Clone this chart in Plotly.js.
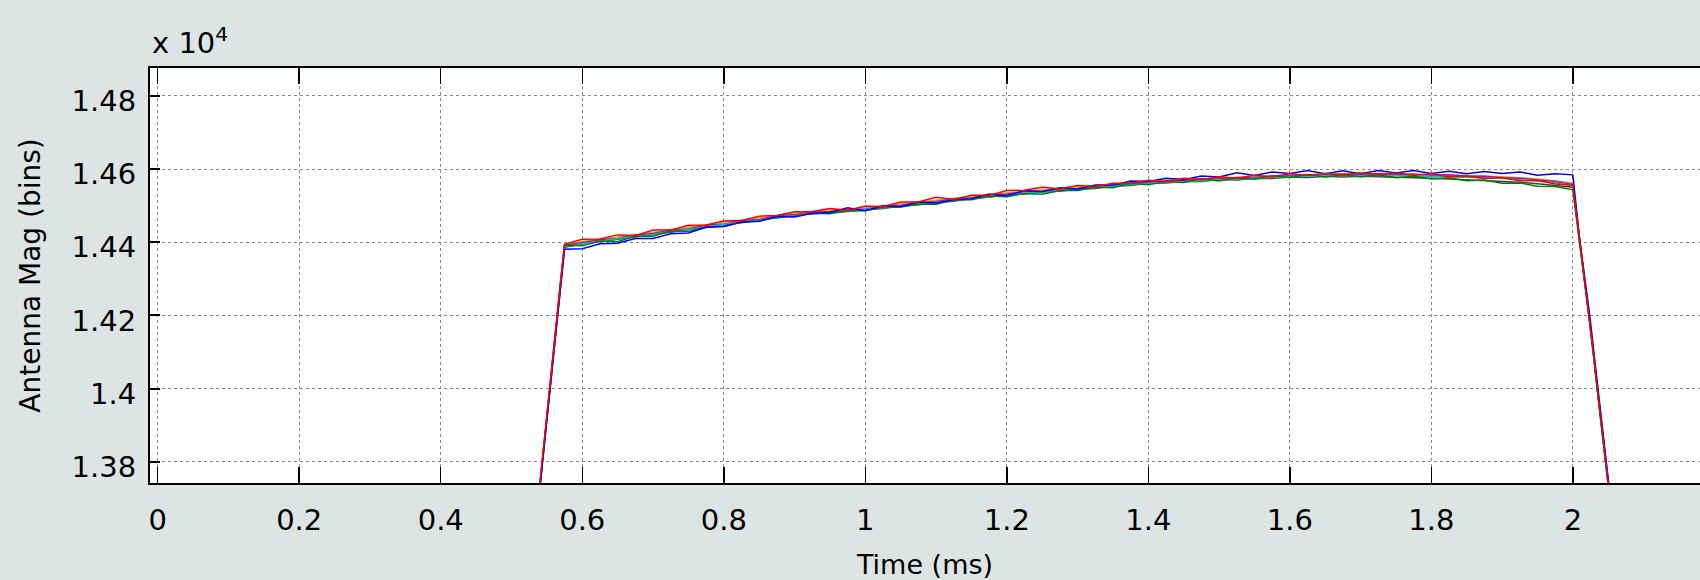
<!DOCTYPE html>
<html>
<head>
<meta charset="utf-8">
<script src="https://cdn.plot.ly/plotly-3.0.1.min.js"></script>
<style>
  html, body { margin: 0; padding: 0; background: #dde4e4; }
  #chart { width: 1700px; height: 580px; }
</style>
</head>
<body>
<div id="chart"></div>
<script>
// Time axis (ms): rising edge, plateau, falling edge
const timeMs = [
  0.540,0.545,0.550,0.555,0.560,0.565,0.570,
  0.575,0.600,0.625,0.650,0.675,0.700,0.725,0.750,0.775,
  0.800,0.825,0.850,0.875,0.900,0.925,0.950,0.975,
  1.000,1.025,1.050,1.075,1.100,1.125,1.150,1.175,1.200,1.225,1.250,1.275,1.300,1.325,1.350,1.375,
  1.400,1.425,1.450,1.475,1.500,1.525,1.550,1.575,1.600,1.625,1.650,1.675,1.700,1.725,1.750,1.775,
  1.800,1.825,1.850,1.875,1.900,1.925,1.950,1.975,2.000,
  2.005,2.010,2.015,2.020,2.025,2.030,2.035,2.040,2.045,2.050,2.055
];

// Antenna magnitude (bins) for each captured pulse
const magBlack = [
  13731,13827,13922,14018,14114,14209,14305,
  14386,14395,14401,14409,14414,14421,14427,14435,14440,14448,14453,14461,14466,14474,14477,14482,14484,14489,14492,14499,14502,14509,14512,14520,14523,14530,14532,14538,14539,14545,14547,14553,14555,14561,14562,14566,14566,14571,14570,14575,14574,14578,14577,14580,14578,14580,14578,14578,14576,14575,14573,14571,14569,14567,14564,14560,14555,14550,
  14474,14388,14318,14243,14168,14078,13988,13903,13823,13738,13652
];
const magYellow = [
  13736,13833,13927,14024,14119,14215,14311,
  14394,14402,14409,14414,14420,14428,14434,14442,14447,14455,14460,14467,14473,14480,14483,14488,14490,14495,14499,14505,14509,14515,14519,14526,14530,14536,14540,14543,14547,14550,14554,14558,14562,14566,14569,14571,14574,14576,14578,14580,14582,14584,14585,14586,14587,14588,14587,14587,14586,14586,14584,14583,14581,14579,14577,14573,14568,14561,
  14480,14396,14326,14251,14176,14086,13996,13911,13831,13746,13661
];
const magMagenta = [
  13734,13831,13926,14022,14118,14213,14309,
  14391,14399,14407,14410,14420,14424,14433,14437,14446,14450,14459,14462,14472,14476,14482,14484,14489,14491,14498,14501,14508,14511,14518,14521,14529,14532,14538,14540,14545,14547,14553,14555,14561,14563,14568,14568,14573,14573,14577,14577,14581,14581,14584,14583,14586,14585,14587,14584,14586,14583,14584,14580,14580,14576,14575,14570,14566,14558,
  14482,14397,14327,14252,14177,14087,13997,13912,13832,13747,13662
];
const magCyan = [
  13732,13828,13923,14019,14115,14210,14306,
  14388,14396,14403,14408,14416,14421,14430,14435,14442,14448,14456,14460,14468,14473,14479,14481,14486,14489,14494,14498,14505,14509,14514,14519,14525,14530,14533,14538,14541,14545,14550,14552,14557,14561,14563,14566,14568,14572,14573,14575,14577,14579,14580,14582,14582,14583,14583,14582,14581,14581,14579,14578,14576,14574,14571,14567,14562,14554,
  14476,14390,14320,14245,14170,14080,13990,13905,13825,13740,13655
];
const magGreen = [
  13730,13826,13921,14016,14112,14208,14304,
  14392,14390,14403,14401,14417,14416,14431,14429,14442,14443,14455,14457,14470,14471,14479,14478,14486,14486,14496,14496,14504,14504,14515,14516,14526,14524,14533,14531,14541,14541,14551,14549,14561,14557,14566,14563,14573,14567,14576,14572,14581,14577,14585,14578,14584,14579,14584,14576,14580,14573,14576,14568,14570,14561,14562,14553,14552,14543,
  14470,14385,14315,14240,14163,14075,13985,13900,13820,13736,13650
];
const magBlue = [
  13725,13818,13915,14010,14106,14200,14296,
  14381,14382,14396,14397,14410,14410,14423,14425,14441,14443,14455,14457,14470,14469,14479,14481,14494,14486,14499,14497,14510,14507,14516,14519,14532,14527,14541,14538,14549,14545,14556,14556,14567,14566,14575,14571,14581,14578,14590,14582,14592,14588,14596,14587,14595,14587,14596,14589,14596,14588,14594,14587,14593,14588,14592,14583,14587,14584,
  14486,14402,14330,14258,14182,14094,14004,13918,13838,13752,13668
];
const magRed = [
  13740,13836,13930,14028,14122,14218,14314,
  14394,14408,14409,14420,14418,14433,14433,14446,14447,14458,14459,14471,14473,14483,14484,14492,14487,14499,14497,14510,14510,14523,14517,14528,14528,14541,14542,14550,14546,14555,14552,14561,14561,14569,14566,14575,14571,14579,14575,14583,14579,14587,14583,14588,14584,14589,14585,14589,14583,14587,14579,14581,14574,14577,14568,14569,14559,14556,
  14478,14393,14322,14248,14172,14082,13992,13907,13827,13742,13656
];

const yTickVals = [13800, 14000, 14200, 14400, 14600, 14800];
const yTickText = ['1.38', '1.4', '1.42', '1.44', '1.46', '1.48'];

const series = [
  {y: magBlack,   color: '#404040'},
  {y: magYellow,  color: '#bfbf00'},
  {y: magMagenta, color: '#bf00bf'},
  {y: magCyan,    color: '#00bfbf'},
  {y: magGreen,   color: '#008000'},
  {y: magBlue,    color: '#0000ff'},
  {y: magRed,     color: '#ff0000'}
];

const traces = series.map(s => ({
  type: 'scatter', mode: 'lines', x: timeMs, y: s.y,
  line: {color: s.color, width: 1.5, shape: 'linear'},
  showlegend: false, hoverinfo: 'skip'
}));

const FONT = 'DejaVu Sans, Arial, sans-serif';

const layout = {
  width: 1700, height: 580,
  margin: {l: 150, r: 0, t: 68, b: 97, pad: 0},
  paper_bgcolor: '#dde4e4',
  plot_bgcolor: '#ffffff',
  showlegend: false,
  font: {family: FONT, size: 27, color: '#000'},
  xaxis: {
    range: [-0.0109, 2.1797],
    dtick: 0.2, tick0: 0,
    ticks: 'inside', ticklen: 16, tickwidth: 1.5, tickcolor: '#000',
    showline: true, linecolor: '#000', linewidth: 2, mirror: 'ticks',
    showgrid: true, gridcolor: '#8a8a8a', griddash: 'dot', gridwidth: 1,
    zeroline: false,
    tickfont: {family: FONT, size: 29, color: '#000'},
    ticklabelstandoff: 10,
    title: {text: 'Time (ms)', font: {family: FONT, size: 27, color: '#000'}, standoff: 26},
    automargin: false
  },
  yaxis: {
    range: [13742, 14876],
    tickvals: yTickVals, ticktext: yTickText,
    ticks: 'inside', ticklen: 10, tickwidth: 2, tickcolor: '#000',
    showline: true, linecolor: '#000', linewidth: 2, mirror: false,
    showgrid: true, gridcolor: '#8a8a8a', griddash: 'dot', gridwidth: 1,
    zeroline: false,
    tickfont: {family: FONT, size: 29, color: '#000'},
    ticklabelstandoff: 6,
    ticklabelshift: 5,
    title: {text: 'Antenna Mag (bins)', font: {family: FONT, size: 28, color: '#000'}, standoff: 23},
    automargin: false
  },
  yaxis2: {
    overlaying: 'y', side: 'right', anchor: 'x',
    range: [13742, 14876],
    tickvals: yTickVals, showticklabels: false,
    ticks: 'inside', ticklen: 7, tickwidth: 2, tickcolor: '#000',
    showline: false, showgrid: false, zeroline: false
  },
  annotations: [{
    xref: 'paper', yref: 'paper', x: 0, y: 1,
    xanchor: 'left', yanchor: 'bottom', yshift: 6, showarrow: false,
    text: 'x 10<sup>4</sup>',
    font: {family: FONT, size: 29, color: '#000'}
  }]
};

Plotly.newPlot('chart', traces, layout, {displayModeBar: false, staticPlot: true});
</script>
</body>
</html>
